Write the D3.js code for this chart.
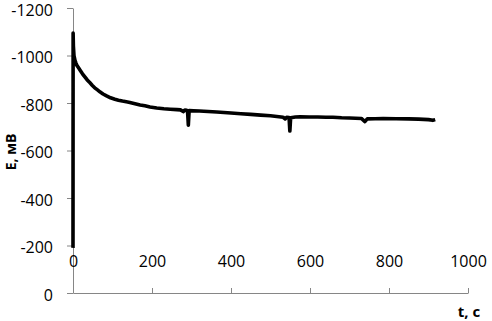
<!DOCTYPE html>
<html>
<head>
<meta charset="utf-8">
<script src="https://cdn.jsdelivr.net/npm/d3@7"></script>
<style>
  body { margin: 0; background: #fff; }
  text { font-family: "Open Sans", "DejaVu Sans", sans-serif; }
</style>
</head>
<body>
<div id="chart"></div>
<script>
const WIDTH = 492;
const HEIGHT = 321;

// time, s
const times = [
    0, 0.3, 1, 2.5, 5, 7.5, 10, 14, 18, 24, 30, 36, 43, 49, 55, 62, 68, 76, 85, 95,
    106, 115, 125, 135, 144, 157, 170, 182, 195, 212, 230, 246, 263, 272, 279, 283,
    288, 290, 292, 294, 305, 320, 342, 364, 382, 400, 425, 450, 475, 500, 516, 532,
    537, 541, 547, 549, 551, 563, 575, 598, 620, 640, 658, 680, 700, 715, 730, 739,
    745, 765, 785, 818, 850, 875, 900, 911, 917
];
// potential, mV
const potentials = [
    -190, -1095, -1040, -1000, -980, -968, -958, -948, -938, -923, -910, -897, -885, -874, -864, -855, -847, -838, -830, -822,
    -816, -812, -808, -805, -802, -797, -792, -788, -783, -779, -776, -774, -772, -771, -764, -770,
    -769, -766, -707, -768, -767, -766, -764, -762, -760, -758, -755, -752, -749, -746, -743, -740,
    -733, -740, -739, -682, -738, -741, -742, -741, -741, -740, -740, -738, -737, -736, -735, -722,
    -733, -734, -735, -734, -733, -732, -730, -727, -730
];

const xTicks = [0, 200, 400, 600, 800, 1000];
const xTickLabels = ['0', '200', '400', '600', '800', '1000'];
const yTicks = [0, -200, -400, -600, -800, -1000, -1200];
const yTickLabels = ['0', '-200', '-400', '-600', '-800', '-1000', '-1200'];

const data = times.map((t, i) => ({ t: t, e: potentials[i] }));

const svg = d3.select('#chart')
    .append('svg')
    .attr('width', WIDTH)
    .attr('height', HEIGHT);

// Scales
const xScale = d3.scaleLinear()
    .domain([0, 1000])
    .range([73, 468]);

const yScale = d3.scaleLinear()
    .domain([0, -1200])
    .range([293, 8]);

// Y axis
svg.append('g')
    .attr('transform', `translate(${xScale(0)},0)`)
    .call(d3.axisLeft(yScale)
        .tickValues(yTicks)
        .tickFormat((d, i) => yTickLabels[i])
        .tickSizeInner(6)
        .tickSizeOuter(0)
        .tickPadding(14))
    .selectAll('.tick text')
    .attr('dy', '0.44em');

// X axis (labels sit above the line, as in the original)
svg.append('g')
    .attr('transform', `translate(0,${yScale(0)})`)
    .call(d3.axisTop(xScale)
        .tickValues(xTicks)
        .tickFormat((d, i) => xTickLabels[i])
        .tickSizeInner(5)
        .tickSizeOuter(0)
        .tickPadding(21));

svg.selectAll('.domain, .tick line')
    .attr('stroke', '#868686');

svg.selectAll('.tick text')
    .attr('fill', '#000')
    .style('font-size', '16px');

// Line
const line = d3.line()
    .x(d => xScale(d.t))
    .y(d => yScale(d.e));

svg.append('path')
    .datum(data)
    .attr('d', line)
    .attr('fill', 'none')
    .attr('stroke', '#000')
    .attr('stroke-width', 3.6)
    .attr('stroke-linejoin', 'round');

// Axis titles
svg.append('text')
    .text('E, мВ')
    .attr('transform', 'translate(16,152) rotate(-90)')
    .attr('text-anchor', 'middle')
    .style('font-size', '14px')
    .style('font-weight', 'bold');

svg.append('text')
    .text('t, c')
    .attr('x', 469)
    .attr('y', 317)
    .attr('text-anchor', 'middle')
    .style('font-size', '15px')
    .style('font-weight', 'bold');
</script>
</body>
</html>
